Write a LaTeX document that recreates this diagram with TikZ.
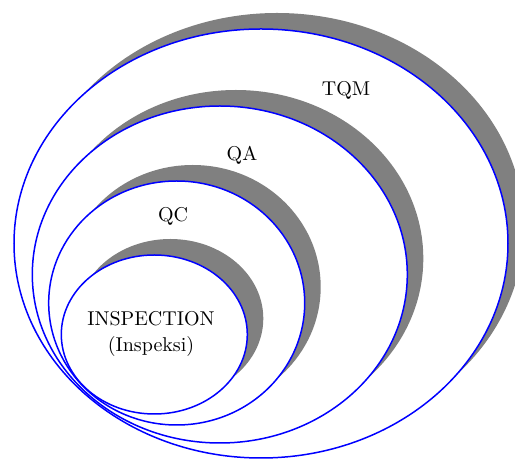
\documentclass[tikz,border=0pt]{standalone}
\usepackage{tikz}
\usepackage{xcolor}
\definecolor{ringblue}{RGB}{0, 0, 255}
\definecolor{shadegray}{RGB}{128, 128, 128}

\begin{document}
\begin{tikzpicture}[x=0.5pt, y=-0.5pt,
  shade/.style={fill=shadegray},
  ring/.style={draw=ringblue, fill=white, line width=0.75pt}]

  % --- Frame of the picture ---
  \useasboundingbox (0, 0) rectangle (515, 459);
  \clip (0, 0) rectangle (515, 459);

  % --- TQM ---
  \fill[shade] (277, 227.5) ellipse [x radius=247, y radius=214.5];
  \path[ring] (261, 243.5) ellipse [x radius=247, y radius=214.5];
  \node (tqm) at (346, 90) {TQM};

  % --- QA ---
  \fill[shade] (235.8, 258.5) ellipse [x radius=187.5, y radius=168.5];
  \path[ring] (219.8, 274.5) ellipse [x radius=187.5, y radius=168.5];
  \node (qa) at (242, 155) {QA};

  % --- QC ---
  \fill[shade] (192.7, 287) ellipse [x radius=128, y radius=122];
  \path[ring] (176.7, 303) ellipse [x radius=128, y radius=122];
  \node (qc) at (173, 216) {QC};

  % --- Inspection ---
  \fill[shade] (170.3, 318.5) ellipse [x radius=93, y radius=79.5];
  \path[ring] (154.3, 334.5) ellipse [x radius=93, y radius=79.5];
  \node (insp) at (151, 319) {INSPECTION};
  \node (inspid) at (151, 347) {(Inspeksi)};

\end{tikzpicture}
\end{document}
